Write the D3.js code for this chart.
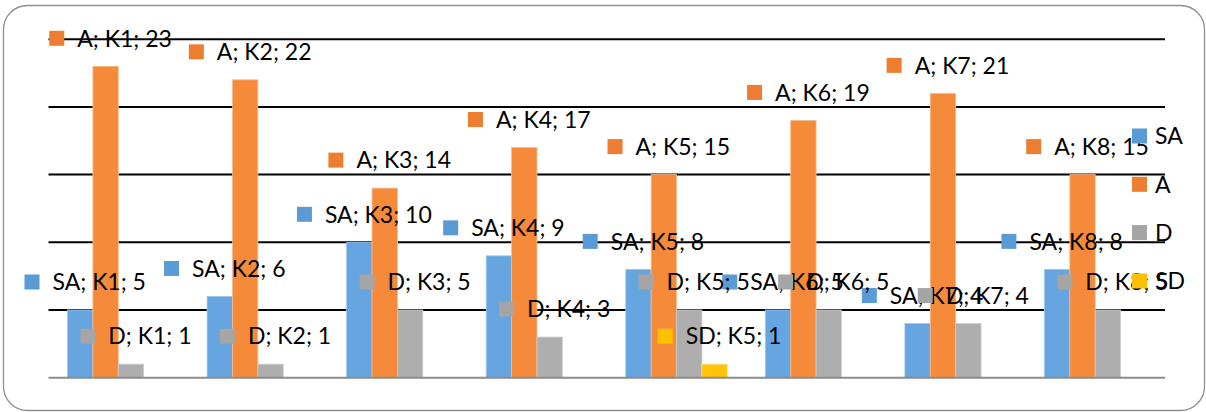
<!DOCTYPE html>
<html>
<head>
<meta charset="utf-8">
<script src="https://cdn.jsdelivr.net/npm/d3@7/dist/d3.min.js"></script>
<style>
  html, body { margin: 0; padding: 0; background: #fff; }
  svg { display: block; }
  text { font-family: Lato, "Open Sans", sans-serif; }
</style>
</head>
<body>
<svg id="chart" width="1206" height="412"></svg>
<script>
// ---- data ----
const categories = ["K1", "K2", "K3", "K4", "K5", "K6", "K7", "K8"];
const seriesNames = ["SA", "A", "D", "SD"];
const saValues = [5, 6, 10, 9, 8, 5, 4, 8];
const aValues  = [23, 22, 14, 17, 15, 19, 21, 15];
const dValues  = [1, 1, 5, 3, 5, 5, 4, 5];
const sdValues = [null, null, null, null, 1, null, null, null];
const yTicks   = [0, 5, 10, 15, 20, 25];

const seriesValues = { SA: saValues, A: aValues, D: dValues, SD: sdValues };
const keyColors = { SA: "#5B9BD5", A: "#ED7D31", D: "#A5A5A5", SD: "#FFC000" };
const barColors = { SA: "#66A5E0", A: "#F58B3A", D: "#AEAEAE", SD: "#FFC40A" };
const barStroke = { SA: "#9CC6EE", A: "#F9BA8E", D: "#CDCDCD", SD: "#FFDD80" };

const svg = d3.select("#chart");
const fs = 23;

// outer frame
svg.append("rect")
  .attr("x", 3.5).attr("y", 5.5)
  .attr("width", 1201).attr("height", 405)
  .attr("rx", 24).attr("ry", 24)
  .attr("fill", "#fff").attr("stroke", "#8f8f8f").attr("stroke-width", 1.3);

const x = d3.scaleBand().domain(categories).range([48.5, 1165]).paddingInner(0).paddingOuter(0);
const xs = d3.scaleBand().domain(seriesNames).range([0, x.bandwidth()]).paddingInner(0).paddingOuter(0.75);
const y = d3.scaleLinear().domain([0, 25]).range([377.7, 39.2]);

// gridlines
svg.append("g").selectAll("line")
  .data(yTicks.filter(t => t > 0))
  .join("line")
  .attr("x1", x.range()[0]).attr("x2", x.range()[1])
  .attr("y1", d => y(d)).attr("y2", d => y(d))
  .attr("stroke", "#000").attr("stroke-width", 2);

// bars
const flat = [];
seriesNames.forEach(s => {
  categories.forEach((c, i) => {
    const v = seriesValues[s][i];
    if (v !== null && v !== undefined) flat.push({ s, c, v });
  });
});

svg.append("g").selectAll("rect")
  .data(flat)
  .join("rect")
  .attr("x", d => x(d.c) + xs(d.s))
  .attr("y", d => y(d.v))
  .attr("width", xs.bandwidth())
  .attr("height", d => y(0) - y(d.v))
  .attr("fill", d => barColors[d.s])
  .attr("stroke", d => barStroke[d.s])
  .attr("stroke-width", 0.8);

// baseline
svg.append("line")
  .attr("x1", x.range()[0]).attr("x2", x.range()[1])
  .attr("y1", y(0)).attr("y2", y(0))
  .attr("stroke", "#8c8c8c").attr("stroke-width", 2);

// data labels (with legend key), drawn series by series
const labelLayer = svg.append("g");
seriesNames.forEach(s => {
  const g = labelLayer.append("g");
  flat.filter(d => d.s === s).forEach(d => {
    const cx = x(d.c) + xs(d.s) + xs.bandwidth() / 2 + 5;
    const cy = y(d.v) - 28;
    const lg = g.append("g").attr("transform", `translate(${cx},${cy})`);
    const sq = lg.append("rect").attr("width", 15).attr("height", 15).attr("y", -7.5)
      .attr("fill", keyColors[s]);
    const t = lg.append("text")
      .attr("y", 0.36 * fs)
      .attr("font-size", fs)
      .attr("fill", "#000")
      .text(`${d.s}; ${d.c}; ${d.v}`);
    const tw = t.node().getComputedTextLength();
    const total = 15 + 13 + tw;
    sq.attr("x", -total / 2);
    t.attr("x", -total / 2 + 28);
  });
});

// legend
const legend = svg.append("g");
seriesNames.forEach((s, i) => {
  const cy = 136 + i * 48.3;
  legend.append("rect").attr("x", 1132).attr("y", cy - 7.5).attr("width", 15).attr("height", 15)
    .attr("fill", keyColors[s]);
  legend.append("text").attr("x", 1155).attr("y", cy + 0.36 * fs)
    .attr("font-size", fs).attr("fill", "#000").text(s);
});
</script>
</body>
</html>
